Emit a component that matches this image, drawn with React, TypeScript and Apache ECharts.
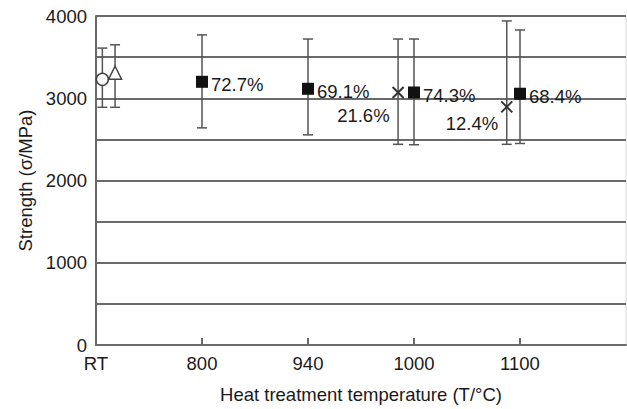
import React, { useEffect, useRef } from "react";
import * as echarts from "echarts";

// x axis: evenly spaced category slots (RT at 0)
const tickLabels = ["RT", "800", "940", "1000", "1100"];

// RT reference samples
const rtCircle = { x: 0.06, y: 3230, low: 2890, high: 3610 };
const rtTriangle = { x: 0.18, y: 3310, low: 2890, high: 3650 };

// Heat-treated samples (filled squares)
const squareX = [1, 2, 3, 4];
const squareY = [3200, 3115, 3070, 3055];
const squareLow = [2640, 2555, 2435, 2450];
const squareHigh = [3770, 3720, 3720, 3830];
const squareLabels = ["72.7%", "69.1%", "74.3%", "68.4%"];

// Crosses
const crossX = [2.85, 3.875];
const crossY = [3070, 2895];
const crossLow = [2440, 2440];
const crossHigh = [3720, 3940];
const crossLabels = ["21.6%", "12.4%"];

const FONT = "Liberation Sans, Arial, sans-serif";
const FS = 18.5;
const TXT = "#1a1a1a";

export default function App() {
  const ref = useRef<HTMLDivElement>(null);
  useEffect(() => {
    if (!ref.current) return;
    const chart = echarts.init(ref.current, null, { renderer: "svg" });

    const errData: number[][] = [
      [rtCircle.x, rtCircle.low, rtCircle.high],
      [rtTriangle.x, rtTriangle.low, rtTriangle.high],
      ...squareX.map((x, i) => [x, squareLow[i], squareHigh[i]]),
      ...crossX.map((x, i) => [x, crossLow[i], crossHigh[i]]),
    ];

    const option: any = {
      animation: false,
      textStyle: { fontFamily: FONT },
      grid: {
        left: 96,
        top: 16,
        right: 1,
        bottom: 61,
        show: true,
        borderColor: "#d8d8d8",
        borderWidth: 1,
      },
      xAxis: {
        type: "value",
        min: 0,
        max: 5,
        interval: 1,
        name: "Heat treatment temperature (T/°C)",
        nameLocation: "middle",
        nameGap: 40,
        nameTextStyle: { fontSize: FS, color: TXT, fontFamily: FONT },
        axisLine: { show: true, lineStyle: { color: "#6a6a6a", width: 2 } },
        axisTick: {
          show: true,
          inside: true,
          length: 7,
          customValues: [1, 2, 3, 4],
          lineStyle: { color: "#6a6a6a", width: 2 },
        },
        axisLabel: {
          customValues: [0, 1, 2, 3, 4],
          formatter: (v: number) => tickLabels[Math.round(v)] ?? "",
          fontSize: FS,
          color: TXT,
          margin: 9,
          fontFamily: FONT,
        },
        splitLine: { show: false },
      },
      yAxis: {
        type: "value",
        min: 0,
        max: 4000,
        interval: 500,
        name: "Strength (σ/MPa)",
        nameLocation: "middle",
        nameGap: 61,
        nameTextStyle: { fontSize: FS, color: TXT, fontFamily: FONT },
        axisLine: { show: true, lineStyle: { color: "#6a6a6a", width: 2 } },
        axisTick: { show: false },
        axisLabel: {
          formatter: (v: number) => (v % 1000 === 0 ? String(v) : ""),
          fontSize: FS,
          color: TXT,
          margin: 9,
          fontFamily: FONT,
        },
        splitLine: { show: true, lineStyle: { color: "#6a6a6a", width: 2 } },
      },
      series: [
        {
          type: "custom",
          z: 2,
          data: errData,
          encode: { x: 0, y: [1, 2] },
          renderItem: (params: any, api: any) => {
            const x = api.value(0);
            const lo = api.coord([x, api.value(1)]);
            const hi = api.coord([x, api.value(2)]);
            const cap = 5;
            const style = { stroke: "#555", lineWidth: 1.5 };
            return {
              type: "group",
              children: [
                { type: "line", shape: { x1: lo[0], y1: lo[1], x2: hi[0], y2: hi[1] }, style },
                { type: "line", shape: { x1: hi[0] - cap, y1: hi[1], x2: hi[0] + cap, y2: hi[1] }, style },
                { type: "line", shape: { x1: lo[0] - cap, y1: lo[1], x2: lo[0] + cap, y2: lo[1] }, style },
              ],
            };
          },
        },
        {
          type: "scatter",
          z: 5,
          symbol: "circle",
          symbolSize: 12,
          itemStyle: { color: "#fff", borderColor: "#444", borderWidth: 1.5, opacity: 1 },
          data: [[rtCircle.x, rtCircle.y]],
        },
        {
          type: "scatter",
          z: 5,
          symbol: "triangle",
          symbolSize: 13,
          itemStyle: { color: "#fff", borderColor: "#444", borderWidth: 1.5, opacity: 1 },
          data: [[rtTriangle.x, rtTriangle.y]],
        },
        {
          type: "scatter",
          z: 5,
          symbol: "rect",
          symbolSize: 12,
          itemStyle: { color: "#111", opacity: 1 },
          label: {
            show: true,
            position: "right",
            distance: 3,
            offset: [0, 3],
            fontSize: FS,
            color: TXT,
            opacity: 1,
            fontFamily: FONT,
            formatter: (p: any) => squareLabels[p.dataIndex],
          },
          data: squareX.map((x, i) => [x, squareY[i]]),
        },
        {
          type: "scatter",
          z: 5,
          symbol: "path://M0,0L10,10M0,10L10,0",
          symbolSize: 11,
          itemStyle: { color: "transparent", borderColor: "#333", borderWidth: 2, opacity: 1 },
          label: {
            show: true,
            position: "left",
            distance: 2,
            fontSize: FS,
            color: TXT,
            opacity: 1,
            fontFamily: FONT,
            formatter: (p: any) => crossLabels[p.dataIndex],
          },
          data: crossX.map((x, i) => ({
            value: [x, crossY[i]],
            label: { offset: i === 0 ? [0, 23] : [0, 17] },
          })),
        },
      ],
    };
    chart.setOption(option);
    return () => chart.dispose();
  }, []);

  return (
    <div
      ref={ref}
      style={{ position: "fixed", left: 0, top: 0, width: 627, height: 409, background: "#fff" }}
    />
  );
}
